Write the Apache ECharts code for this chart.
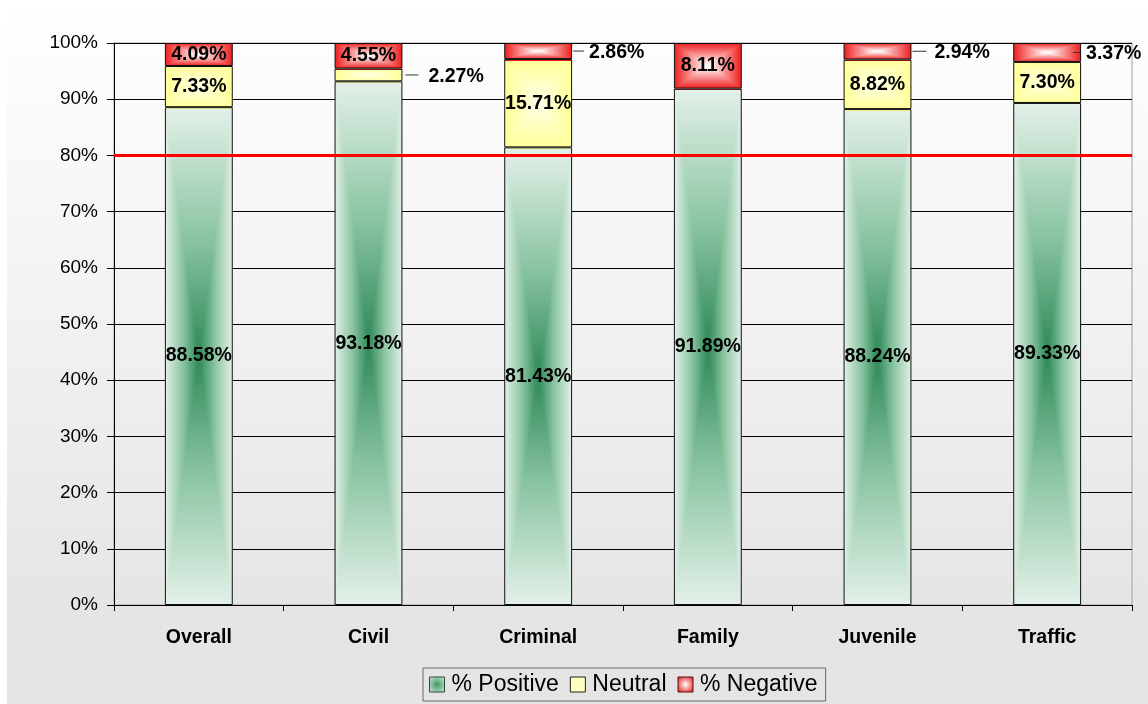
<!DOCTYPE html>
<html>
<head>
<meta charset="utf-8">
<title>Survey results by court</title>
<script src="https://cdn.jsdelivr.net/npm/echarts@6/dist/echarts.min.js"></script>
<style>
html, body { margin: 0; padding: 0; background: #fff; }
#main { width: 1148px; height: 704px; }
</style>
</head>
<body>
<div id="main"></div>
<script>
const categories = ['Overall', 'Civil', 'Criminal', 'Family', 'Juvenile', 'Traffic'];
const positive = [88.58, 93.18, 81.43, 91.89, 88.24, 89.33];
const neutral = [7.33, 2.27, 15.71, null, 8.82, 7.30];
const negative = [4.09, 4.55, 2.86, 8.11, 2.94, 3.37];
const target = 80;

// small segments get their label beside the bar: [distance, leader length, gap]
const sideNeutral = { 1: [3, 13, 10] };
const sideNegative = { 2: [1, 11, 5], 4: [1, 14, 8], 5: [-8, 8, 5] };

const FONT = 'Arial, "Liberation Sans", Helvetica, sans-serif';
const pct = v => v.toFixed(2) + '%';

const chart = echarts.init(document.getElementById('main'));

function buildData(values, side) {
    return values.map((v, i) => {
        if (v == null) return '-';
        const s = side[i];
        if (!s) return v;
        return {
            value: v,
            label: {
                position: 'right',
                distance: s[0],
                formatter: '{l| }{g| }{v|' + pct(v) + '}',
                rich: {
                    l: { width: s[1], height: 1, backgroundColor: '#333', verticalAlign: 'middle' },
                    g: { width: s[2] },
                    v: { fontFamily: FONT, fontSize: 19.5, fontWeight: 'bold', color: '#000', padding: [3, 0, 0, 0] }
                }
            }
        };
    });
}

const barLabel = {
    show: true,
    position: 'inside',
    color: '#000',
    fontFamily: FONT,
    fontSize: 19.5,
    fontWeight: 'bold',
    textBorderWidth: 0,
    formatter: p => (p.value == null || p.value === '-') ? '' : pct(p.value)
};

// "from centre" fills, like the office chart: colour by distance to the segment centre
const fills = [
    [[0, [46, 136, 87]], [0.45, [134, 194, 159]], [1, [228, 241, 233]]],
    [[0, [255, 255, 232]], [1, [255, 255, 150]]],
    [[0, [255, 255, 255]], [0.12, [255, 238, 238]], [1, [238, 28, 28]]]
];

function pick(stops, t) {
    for (let k = 1; k < stops.length; k++) {
        if (t <= stops[k][0]) {
            const a = stops[k - 1], b = stops[k];
            const f = (t - a[0]) / (b[0] - a[0]);
            return [0, 1, 2].map(c => Math.round(a[1][c] + (b[1][c] - a[1][c]) * f));
        }
    }
    return stops[stops.length - 1][1];
}

let option = {
    animation: false,
    backgroundColor: new echarts.graphic.LinearGradient(0, 0, 0, 1, [
        { offset: 0, color: '#ffffff' },
        { offset: 0.86, color: '#e5e5e5' },
        { offset: 1, color: '#e4e4e4' }
    ]),
    graphic: [{
        type: 'rect', left: 0, top: 0, z: -1,
        shape: { width: 7, height: 704 },
        style: { fill: '#fff' }
    }],
    textStyle: { fontFamily: FONT },
    grid: {
        left: 114, right: 16, top: 43, bottom: 99,
        show: true, borderColor: '#a0a0a0', borderWidth: 1,
        backgroundColor: 'transparent'
    },
    legend: {
        left: 423, top: 668,
        icon: 'rect',
        itemWidth: 15, itemHeight: 15, itemGap: 11,
        padding: [5, 8, 5, 6],
        borderColor: '#666', borderWidth: 1,
        textStyle: { fontFamily: FONT, fontSize: 23, color: '#000', padding: [0, 0, 0, 2] },
        data: [
            { name: '% Positive', itemStyle: { color: new echarts.graphic.RadialGradient(0.5, 0.5, 0.6, [{ offset: 0, color: '#3d9a66' }, { offset: 1, color: '#c2e0cd' }]), borderColor: '#2a4a38', borderWidth: 1 } },
            { name: 'Neutral', itemStyle: { color: '#ffffc0', borderColor: '#222', borderWidth: 1 } },
            { name: '% Negative', itemStyle: { color: new echarts.graphic.RadialGradient(0.5, 0.5, 0.6, [{ offset: 0, color: '#ffffff' }, { offset: 1, color: '#e82828' }]), borderColor: '#5a1010', borderWidth: 1 } }
        ]
    },
    xAxis: {
        type: 'category',
        data: categories,
        axisLine: { lineStyle: { color: '#000', width: 1 } },
        axisTick: { show: true, length: 6, lineStyle: { color: '#000' } },
        axisLabel: { margin: 23, color: '#000', fontFamily: FONT, fontSize: 19.5, fontWeight: 'bold' }
    },
    yAxis: {
        type: 'value',
        min: 0, max: 100, interval: 10,
        axisLine: { show: true, lineStyle: { color: '#000', width: 1 } },
        axisTick: { show: true, length: 7, lineStyle: { color: '#000' } },
        axisLabel: { margin: 16, color: '#000', fontFamily: FONT, fontSize: 19, formatter: '{value}%' },
        splitLine: { show: true, lineStyle: { color: '#000', width: 1 } }
    },
    series: [
        {
            name: '% Positive', type: 'bar', stack: 'all', barCategoryGap: '60%',
            data: buildData(positive, {}),
            itemStyle: { color: '#8cc5a3', borderColor: '#111', borderWidth: 1 },
            label: barLabel,
            markLine: {
                silent: true, symbol: ['none', 'none'], z: 5,
                label: { show: false },
                lineStyle: { color: '#ff0000', width: 3, type: 'solid' },
                data: [{ yAxis: target }]
            }
        },
        {
            name: 'Neutral', type: 'bar', stack: 'all',
            data: buildData(neutral, sideNeutral),
            itemStyle: { color: '#ffff99', borderColor: '#111', borderWidth: 1 },
            label: barLabel
        },
        {
            name: '% Negative', type: 'bar', stack: 'all',
            data: buildData(negative, sideNegative),
            itemStyle: { color: '#f03030', borderColor: '#111', borderWidth: 1 },
            label: barLabel
        }
    ]
};

chart.setOption(option);

// paint the shaded fills at the places the bar layout gave, then use them as a pattern
function shade() {
    const W = chart.getWidth(), H = chart.getHeight();
    const cnv = document.createElement('canvas');
    cnv.width = W; cnv.height = H;
    const ctx = cnv.getContext('2d');
    const img = ctx.createImageData(W, H);
    const model = chart.getModel();
    for (let s = 0; s < 3; s++) {
        const data = model.getSeriesByIndex(s).getData();
        data.each(idx => {
            const l = data.getItemLayout(idx);
            if (!l || isNaN(l.x) || isNaN(l.height)) return;
            const x0 = l.x, x1 = l.x + l.width;
            const y0 = Math.min(l.y, l.y + l.height), y1 = Math.max(l.y, l.y + l.height);
            const cx = (x0 + x1) / 2, cy = (y0 + y1) / 2;
            const hw = (x1 - x0) / 2, hh = Math.max((y1 - y0) / 2, 0.5);
            for (let py = Math.max(0, Math.floor(y0) - 1); py < Math.min(H, Math.ceil(y1) + 1); py++) {
                for (let px = Math.max(0, Math.floor(x0) - 1); px < Math.min(W, Math.ceil(x1) + 1); px++) {
                    const t = Math.min(1, Math.max(Math.abs(px + 0.5 - cx) / hw, Math.abs(py + 0.5 - cy) / hh));
                    const c = pick(fills[s], t);
                    const o = (py * W + px) * 4;
                    img.data[o] = c[0]; img.data[o + 1] = c[1]; img.data[o + 2] = c[2]; img.data[o + 3] = 255;
                }
            }
        });
    }
    ctx.putImageData(img, 0, 0);
    const pattern = { image: cnv, repeat: 'no-repeat' };
    chart.setOption({
        series: [
            { itemStyle: { color: pattern } },
            { itemStyle: { color: pattern } },
            { itemStyle: { color: pattern } }
        ]
    });
}
shade();
</script>
</body>
</html>
